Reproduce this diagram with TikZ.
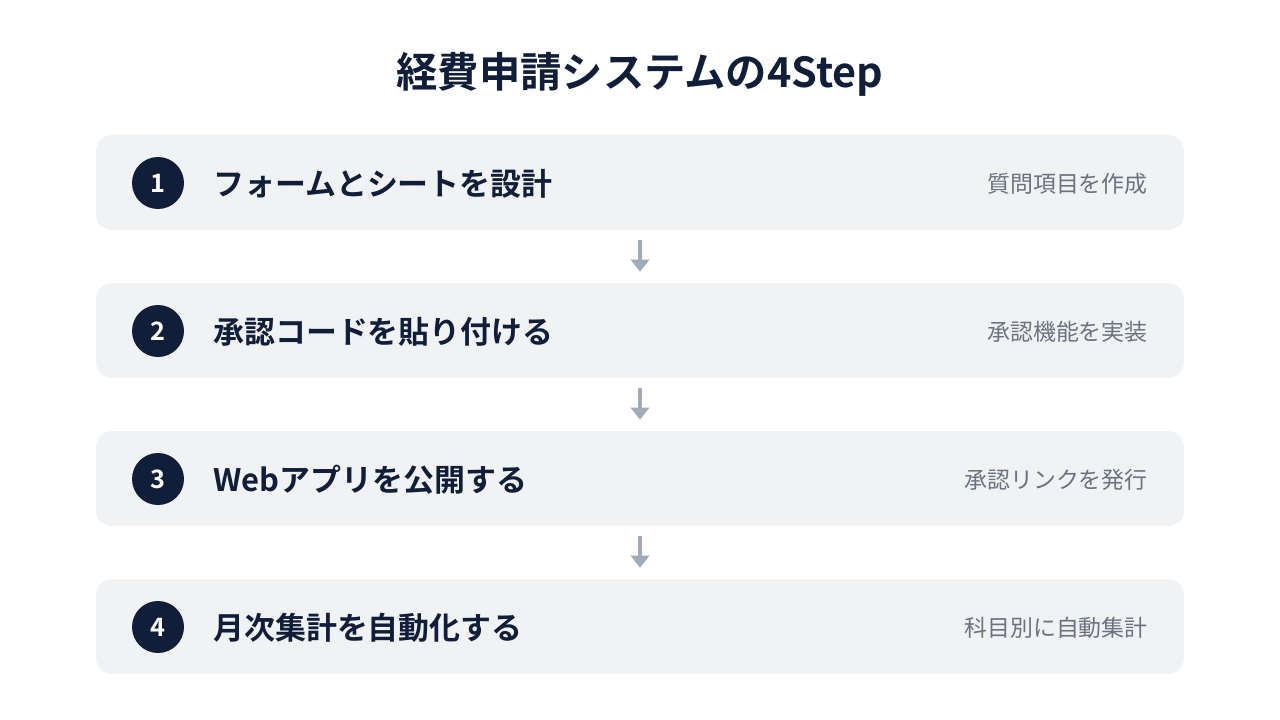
\documentclass[tikz,border=0pt]{standalone}
\usepackage{fontspec}
\newfontfamily\jp[BoldFont={Noto Sans CJK JP Bold}]{Noto Sans CJK JP}
\usetikzlibrary{positioning, arrows.meta}
\definecolor{navy}{HTML}{111E3A}
\definecolor{boxgray}{HTML}{F1F2F4}
\definecolor{subgray}{HTML}{6B7280}
\definecolor{arrowgray}{HTML}{A3ABBA}
\tikzset{
	stepbox/.style={fill=boxgray, rounded corners=12pt, minimum width=816pt, minimum height=71.25pt, inner sep=0pt},
	num/.style={circle, fill=navy, text=white, minimum size=39pt, inner sep=0pt, font=\jp\bfseries\fontsize{19}{19}\selectfont},
	maintext/.style={anchor=west, text=navy, inner sep=0pt, font=\jp\bfseries\fontsize{23.2}{25}\selectfont},
	subtext/.style={anchor=east, text=subgray, inner sep=0pt, font=\jp\fontsize{17.2}{19}\selectfont},
	flow/.style={arrowgray, line width=3pt, -{Triangle[width=13.5pt, length=9pt]}, shorten <=7.5pt, shorten >=8.25pt}
}
\begin{document}
\begin{tikzpicture}[x=0.75pt, y=-0.75pt]
	\useasboundingbox[fill=white] (0,0) rectangle (1280,720);
	
	\node[text=navy, font=\jp\bfseries\fontsize{31}{33}\selectfont] (title) at (640,74) {経費申請システムの4Step};
	
	\node[stepbox] (box1) at (640,182.5) {};
	\node[num] (n1) at (158,183) {1};
	\node[maintext] (m1) at (213,184) {フォームとシートを設計};
	\node[subtext] (s1) at (1148,184) {質問項目を作成};
	
	\node[stepbox] (box2) at (640,330.5) {};
	\node[num] (n2) at (158,331) {2};
	\node[maintext] (m2) at (213,332) {承認コードを貼り付ける};
	\node[subtext] (s2) at (1148,332) {承認機能を実装};
	
	\node[stepbox] (box3) at (640,478.5) {};
	\node[num] (n3) at (158,479) {3};
	\node[maintext] (m3) at (213,480) {Webアプリを公開する};
	\node[subtext] (s3) at (1148,480) {承認リンクを発行};
	
	\node[stepbox] (box4) at (640,626.5) {};
	\node[num] (n4) at (158,627) {4};
	\node[maintext] (m4) at (213,628) {月次集計を自動化する};
	\node[subtext] (s4) at (1148,628) {科目別に自動集計};
	
	\draw[flow] (box1.south) -- (box2.north);
	\draw[flow] (box2.south) -- (box3.north);
	\draw[flow] (box3.south) -- (box4.north);
\end{tikzpicture}
\end{document}
